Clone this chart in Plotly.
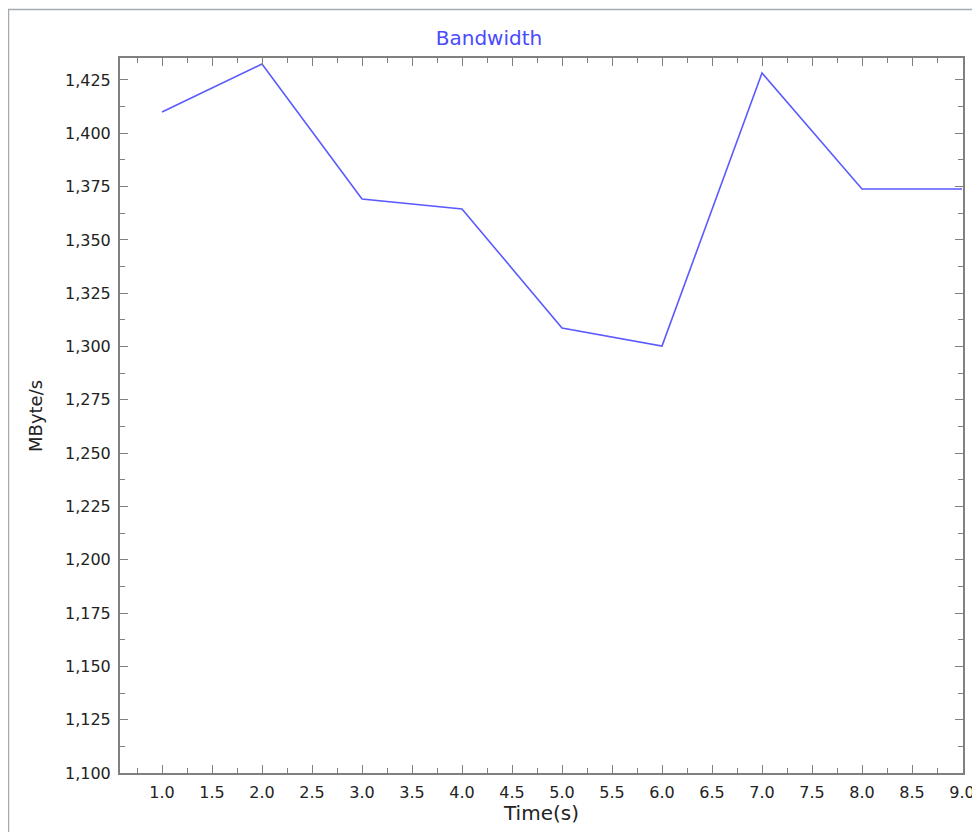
import plotly.graph_objects as go

time_s = [1, 2, 3, 4, 5, 6, 7, 8, 9]
bandwidth = [1410.0, 1432.5, 1369.2, 1364.5, 1308.7, 1300.2, 1428.3, 1373.9, 1373.9]

# page body has an 8px margin, so figure coords = screen coords - 8
OFF = 8
W, H = 980 - OFF, 832 - OFF
L, R, T, B = 120 - OFF, 963 - OFF, 58 - OFF, 773 - OFF
pw, ph = R - L, B - T

fig = go.Figure()
fig.add_trace(go.Scatter(x=time_s, y=bandwidth, mode="lines",
                         line=dict(color="#5a5aff", width=1.6), showlegend=False))

def px(x):
    return (x - OFF - L) / pw

def py(y):
    return (B - (y - OFF)) / ph

fig.add_shape(type="rect", xref="paper", yref="paper",
              x0=px(8.5), x1=px(1000), y0=py(850), y1=py(9.5),
              line=dict(color="#a3aab3", width=1.5), fillcolor="rgba(0,0,0,0)", layer="below")

tickfont = dict(family="DejaVu Sans", size=16, color="#222")
axis_common = dict(showline=True, linecolor="#808080", linewidth=2, mirror="allticks",
                   ticks="inside", ticklen=8, tickcolor="#808080", tickwidth=1,
                   showgrid=False, zeroline=False, tickfont=tickfont, automargin=False)

fig.update_layout(
    width=W, height=H,
    margin=dict(l=L, r=W - R, t=T, b=H - B, autoexpand=False),
    paper_bgcolor="white", plot_bgcolor="white",
    title=dict(text="Bandwidth", x=(489 - OFF) / W, xanchor="center",
               y=1 - (38 - OFF) / H, yanchor="middle",
               font=dict(family="DejaVu Sans", size=20, color="#4a4aff")),
    xaxis=dict(range=[0.58, 9.01], tick0=0, dtick=0.5, tickformat=".1f",
               ticklabelstandoff=4,
               minor=dict(ticks="inside", ticklen=5, dtick=0.25, tick0=0, tickcolor="#808080"),
               **axis_common),
    yaxis=dict(range=[1100, 1435.3], tick0=1100, dtick=25, tickformat=",d",
               ticklabelstandoff=4,
               minor=dict(ticks="inside", ticklen=5, dtick=12.5, tick0=1100, tickcolor="#808080"),
               **axis_common),
    annotations=[
        dict(text="Time(s)", xref="paper", yref="paper", x=px(541), y=py(813),
             xanchor="center", yanchor="middle", showarrow=False,
             font=dict(family="DejaVu Sans", size=20, color="#222")),
        dict(text="MByte/s", xref="paper", yref="paper", x=px(35), y=py(416),
             xanchor="center", yanchor="middle", showarrow=False, textangle=-90,
             font=dict(family="DejaVu Sans", size=18, color="#222")),
    ],
)

fig.write_html("out.html")
